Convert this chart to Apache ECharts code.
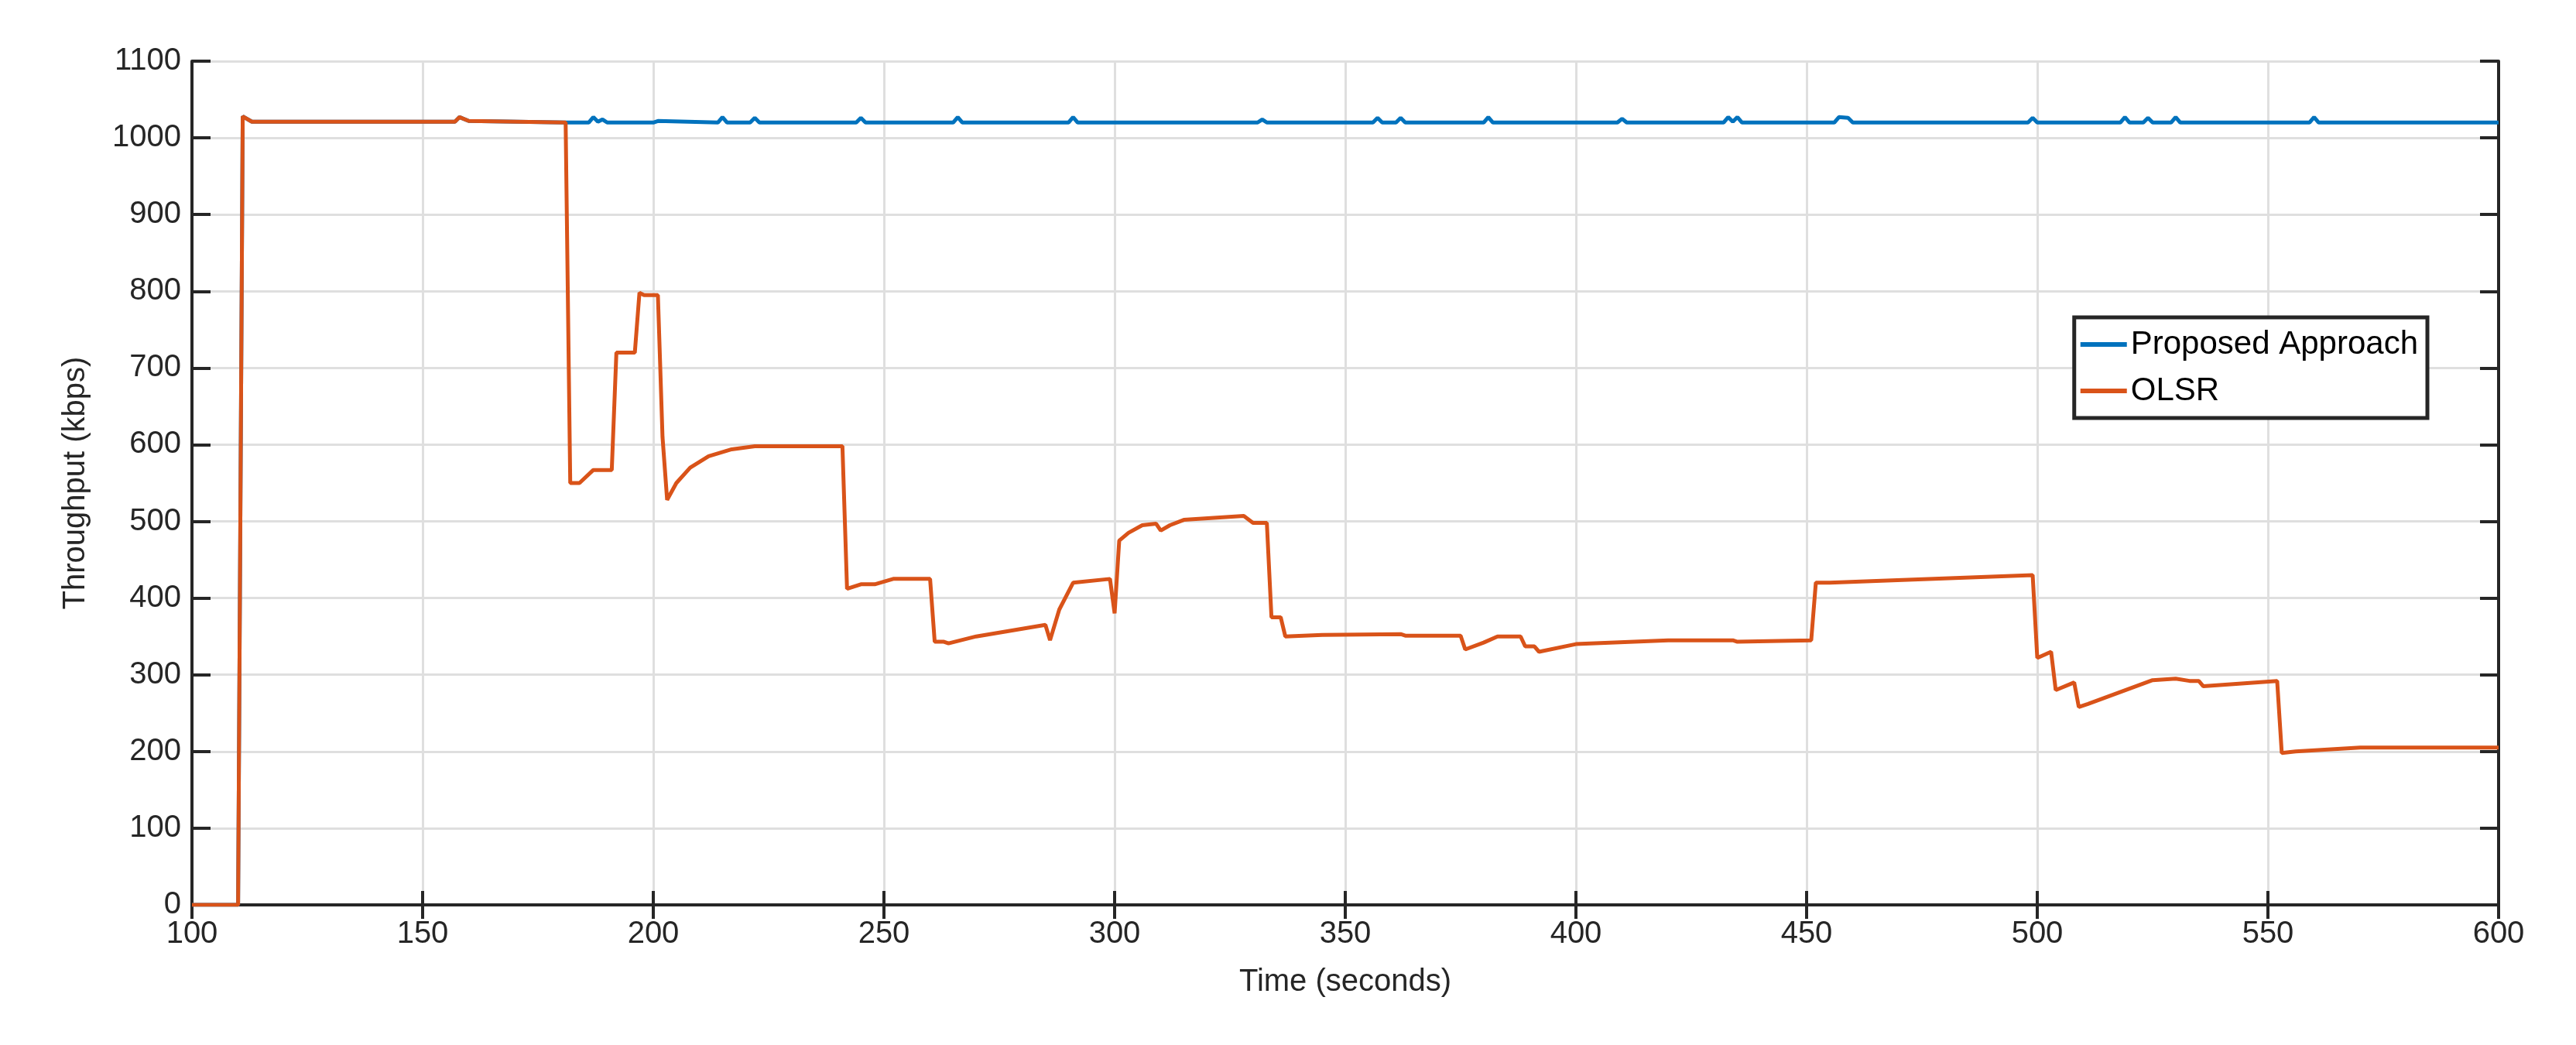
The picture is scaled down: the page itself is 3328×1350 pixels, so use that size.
<!DOCTYPE html>
<html><head><meta charset="utf-8">
<script src="https://cdn.jsdelivr.net/npm/echarts@6/dist/echarts.min.js"></script>
<style>html,body{margin:0;padding:0;background:#fff}#c{width:3328px;height:1350px}</style>
</head><body><div id="c"></div>
<script>
const xTicks = [100,150,200,250,300,350,400,450,500,550,600];
const proposed = [[100,0],[110,0],[111,1028],[113,1021],[157,1021],[158,1027],[160,1022],[181,1020],
[186,1020],[187,1027],[188,1021],[189,1024],[190,1020],[200,1020],[201,1022],[214,1020],[215,1027],[216,1020],[221,1020],[222,1026],[223,1020],
[244,1020],[245,1026],[246,1020],[265,1020],[266,1027],[267,1020],[290,1020],[291,1027],[292,1020],[331,1020],[332,1024],[333,1020],
[356,1020],[357,1026],[358,1020],[361,1020],[362,1026],[363,1020],[380,1020],[381,1027],[382,1020],[409,1020],[410,1025],[411,1020],
[432,1020],[433,1027],[434,1021],[435,1027],[436,1020],[456,1020],[457,1027],[459,1026],[460,1020],[498,1020],[499,1026],[500,1020],
[518,1020],[519,1027],[520,1020],[523,1020],[524,1026],[525,1020],[529,1020],[530,1027],[531,1020],[559,1020],[560,1027],[561,1020],[600,1020]];
const olsr = [[100,0],[110,0],[111,1028],[113,1021],[157,1021],[158,1027],[160,1022],[181,1020],[182,550],[184,550],[187,567],[191,567],
[192,720],[196,720],[197,798],[198,795],[201,795],[202,610],[203,528],[205,550],[208,570],[212,585],[217,594],[222,598],[241,598],
[242,412],[245,418],[248,418],[252,425],[260,425],[261,343],[263,343],[264,341],[270,350],[285,365],[286,345],[288,385],[291,420],
[299,425],[300,380],[301,475],[303,485],[306,495],[309,497],[310,488],[312,495],[315,502],[328,507],[330,498],[333,498],[334,375],
[336,375],[337,350],[345,352],[362,353],[363,351],[375,351],[376,333],[380,342],[383,350],[388,350],[389,337],[391,337],[392,330],
[400,340],[420,345],[434,345],[435,343],[451,345],[452,420],[455,420],[499,430],[500,322],[503,330],[504,280],[508,290],[509,258],
[511,262],[525,293],[530,295],[533,292],[535,292],[536,285],[552,292],[553,198],[556,200],[570,205],[600,205]];
const font = 'Liberation Sans, Arial, sans-serif';
const fmt = v => String(v);
const axisLine = {show:true,lineStyle:{color:'#262626',width:4}};
const chart = echarts.init(document.getElementById('c'));
chart.setOption({
  animation:false,
  grid:{left:248,right:100,top:79,bottom:181,show:false},
  legend:{right:192,top:410,orient:'vertical',backgroundColor:'#fff',borderColor:'#262626',borderWidth:5,padding:[14,12,14,8],
    itemWidth:60,itemHeight:6,itemGap:18,textStyle:{fontFamily:font,fontSize:42,color:'#000'},icon:'rect',
    data:['Proposed Approach','OLSR']},
  xAxis:[{type:'value',min:100,max:600,interval:50,name:'Time (seconds)',nameLocation:'middle',nameGap:80,
    nameTextStyle:{fontFamily:font,fontSize:40,color:'#262626'},
    axisLine,axisTick:{show:true,inside:true,length:18,lineStyle:{color:'#262626',width:4}},
    axisLabel:{fontFamily:font,fontSize:40,color:'#262626',margin:18,formatter:fmt},
    splitLine:{show:true,lineStyle:{color:'#dfdfdf',width:3}}},
   {type:'value',position:'top',min:100,max:600,interval:50,axisLine,axisLabel:{show:false},
    axisTick:{show:true,inside:true,length:18,lineStyle:{color:'#262626',width:4}},splitLine:{show:false}}],
  yAxis:[{type:'value',min:0,max:1100,interval:100,name:'Throughput (kbps)',nameLocation:'middle',nameGap:130,
    nameTextStyle:{fontFamily:font,fontSize:40,color:'#262626'},
    axisLine,axisTick:{show:true,inside:true,length:24,lineStyle:{color:'#262626',width:4}},
    axisLabel:{fontFamily:font,fontSize:40,color:'#262626',margin:14,formatter:fmt},
    splitLine:{show:true,lineStyle:{color:'#dfdfdf',width:3}}},
   {type:'value',position:'right',min:0,max:1100,interval:100,axisLine,axisLabel:{show:false},
    axisTick:{show:true,inside:true,length:24,lineStyle:{color:'#262626',width:4}},splitLine:{show:false}}],
  series:[
    {name:'Proposed Approach',type:'line',data:proposed,showSymbol:false,lineStyle:{color:'#0072bd',width:5},itemStyle:{color:'#0072bd'},z:2},
    {name:'OLSR',type:'line',data:olsr,showSymbol:false,lineStyle:{color:'#d95319',width:5},itemStyle:{color:'#d95319'},z:3}
  ]
});
</script></body></html>
